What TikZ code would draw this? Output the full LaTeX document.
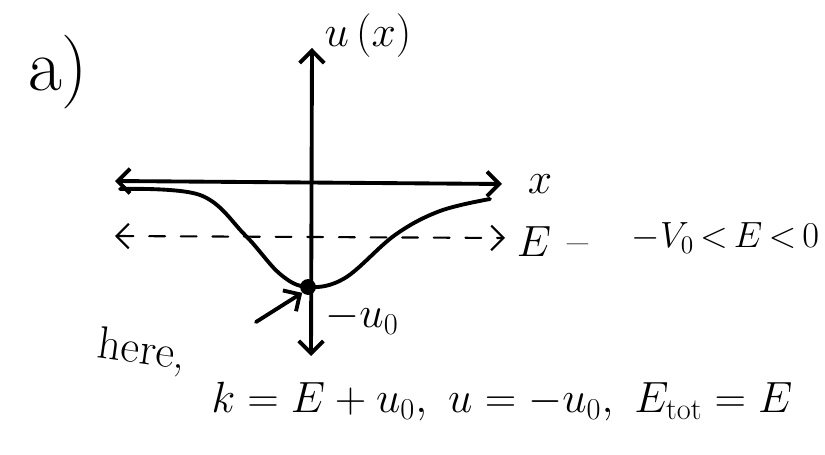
\documentclass[tikz,border=0pt]{standalone}
\usepackage{amsmath}
\usepackage{tikz}
\usetikzlibrary{arrows.meta,positioning}

\begin{document}
\begin{tikzpicture}[x=0.02cm,y=-0.02cm,
    every node/.style={font=\fontsize{26}{30}\selectfont},
    ink/.style={line width=2.2pt,line cap=round,line join=round},
    thin ink/.style={line width=1.2pt,line cap=round,dash pattern=on 9pt off 9pt},
    barb/.tip={Straight Barb[length=7pt,width=14pt]}
]
\useasboundingbox (0,0) rectangle (825,455);
\node (part) at (58,72) {\fontsize{42}{46}\selectfont a)};

\coordinate (yTop) at (312,48);
\coordinate (yBot) at (311,356);
\coordinate (xL) at (115,181);
\coordinate (xR) at (502,184);
\coordinate (eL) at (115,236);
\coordinate (eR) at (505,238);
\coordinate (ptr) at (256,322);
\node[circle,fill,inner sep=0pt,minimum size=9pt] (min) at (308,287) {};

\draw[ink,barb-barb] (yBot) -- (yTop);
\draw[ink,barb-barb] (xL) -- (xR);
\draw[thin ink,barb-barb] (eL) -- (eR);
\draw[ink] plot[smooth,tension=0.6] coordinates {(120,189) (200,195) (245,235) (280,274) (308,287) (345,278) (395,235) (440,211) (490,199)};
\draw[ink,-barb] (ptr) -- (min.south west);

\node (ulab) at (368,36) {$u\,(x)$};
\node (xlab) at (540,184) {$x$};
\node (elab) at (534,242) {$E$};
\node (sep) at (578,250) {--};
\node[anchor=east,inner sep=2pt,font=\fontsize{22}{26}\selectfont] (cond) at (823,238) {$-V_0\,{<}\,E\,{<}\,0$};
\node (u0) at (362,318) {$-u_0$};
\node[rotate=-8] (here) at (142,352) {here,};
\node (eqs) at (502,402) {$k = E + u_0,\ u = -u_0,\ E_{\mathrm{tot}} = E$};
\end{tikzpicture}
\end{document}
